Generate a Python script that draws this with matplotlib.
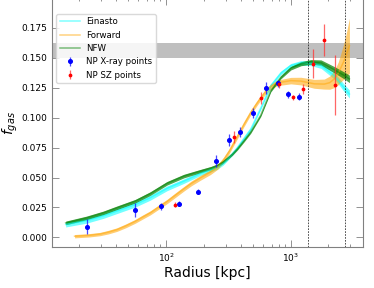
import numpy as np
import matplotlib
matplotlib.use('Agg')
import matplotlib.pyplot as plt
from matplotlib.ticker import MultipleLocator, FormatStrFormatter

# 曲线数据 (kpc, f_gas, 误差带半宽)
r_nfw = [15.7, 23.1, 31.5, 40.4, 56.6, 74.8, 102, 139, 189, 230, 257, 285, 310,
         340, 373, 420, 477, 574, 690, 832, 1000, 1205, 1449, 1746, 2230, 2686,
         2946]
f_nfw = [0.0121, 0.0163, 0.0205, 0.0247, 0.0302, 0.0366, 0.0452, 0.0512, 0.0554,
         0.0580, 0.0600, 0.0628, 0.0660, 0.0696, 0.0740, 0.0806, 0.0880, 0.1020,
         0.1225, 0.1337, 0.1413, 0.1450, 0.1466, 0.1460, 0.1400, 0.1351, 0.1323]
e_nfw = [0.0015, 0.0015, 0.0015, 0.0015, 0.0015, 0.0015, 0.0015, 0.0015, 0.0014,
         0.0013, 0.0012, 0.0012, 0.0011, 0.0011, 0.0011, 0.0011, 0.0011, 0.0011,
         0.0011, 0.0013, 0.0015, 0.0017, 0.0019, 0.0022, 0.0026, 0.0029, 0.0031]

r_ein = r_nfw
f_ein = [0.0108, 0.0140, 0.0180, 0.0220, 0.0274, 0.0332, 0.0410, 0.0470, 0.0534,
         0.0565, 0.0584, 0.0615, 0.0652, 0.0698, 0.0750, 0.0825, 0.0904, 0.1080,
         0.1267, 0.1373, 0.1435, 0.1457, 0.1455, 0.1435, 0.1350, 0.1245, 0.1197]
e_ein = [0.0021, 0.0021, 0.0021, 0.0021, 0.0021, 0.0021, 0.0020, 0.0019, 0.0017,
         0.0016, 0.0015, 0.0014, 0.0013, 0.0013, 0.0013, 0.0013, 0.0013, 0.0013,
         0.0014, 0.0015, 0.0017, 0.0019, 0.0021, 0.0024, 0.0028, 0.0031, 0.0034]

r_fwd = [18.5, 24, 29.6, 34.5, 40.4, 47.5, 56.6, 65, 74.8, 90, 102, 120, 139, 160,
         189, 227, 260, 291, 320, 350, 385, 421, 477, 540, 574, 620, 690, 760, 832,
         1000, 1205, 1541, 1854, 2050, 2230, 2400, 2524, 2650, 2766, 2946]
f_fwd = [0.0010, 0.0017, 0.0028, 0.0044, 0.0065, 0.0096, 0.0134, 0.0170, 0.0205,
         0.0262, 0.0300, 0.0356, 0.0406, 0.0452, 0.0498, 0.0545, 0.0590, 0.0652,
         0.0718, 0.0792, 0.0870, 0.0945, 0.1043, 0.1127, 0.1165, 0.1210, 0.1260,
         0.1285, 0.1295, 0.1309, 0.1305, 0.1282, 0.1280, 0.1292, 0.1323, 0.1370,
         0.1420, 0.1468, 0.1518, 0.1600]
e_fwd = [0.0014, 0.0014, 0.0014, 0.0015, 0.0015, 0.0016, 0.0016, 0.0017, 0.0017,
         0.0018, 0.0018, 0.0019, 0.0019, 0.0020, 0.0020, 0.0020, 0.0020, 0.0020,
         0.0020, 0.0020, 0.0020, 0.0020, 0.0020, 0.0020, 0.0020, 0.0021, 0.0022,
         0.0023, 0.0024, 0.0027, 0.0032, 0.0037, 0.0042, 0.0055, 0.0072, 0.0095,
         0.0120, 0.0148, 0.0175, 0.0230]

# 数据点
r_xray = [23.3, 55.9, 91.7, 127, 182, 252, 321, 394, 502, 638, 782, 957, 1166]
f_xray = [0.009, 0.023, 0.026, 0.028, 0.0383, 0.064, 0.081, 0.088, 0.1038,
          0.1245, 0.1287, 0.1195, 0.1175]
err_xray = [0.006, 0.006, 0.003, 0.002, 0.002, 0.005, 0.005, 0.004, 0.004,
            0.005, 0.003, 0.003, 0.003]

r_sz = [117, 348, 577, 811, 1038, 1256, 1495, 1833, 2275]
f_sz = [0.0272, 0.0839, 0.1161, 0.1278, 0.117, 0.1237, 0.1449, 0.1648, 0.1275]
err_sz = [0.002, 0.005, 0.005, 0.003, 0.002, 0.004, 0.012, 0.013, 0.025]

r_lines = [1370, 2735]
band = [0.150, 0.162]

fig = plt.figure(figsize=(3.74, 2.88), dpi=100)
ax = fig.add_axes([0.139, 0.1424, 0.832, 0.863])

ax.axhspan(band[0], band[1], color='gray', alpha=0.5, lw=0)

for r, f, e, c, a, lab in [(r_ein, f_ein, e_ein, 'cyan', 0.55, 'Einasto'),
                           (r_fwd, f_fwd, e_fwd, 'orange', 0.55, 'Forward'),
                           (r_nfw, f_nfw, e_nfw, 'green', 0.7, 'NFW')]:
    r, f, e = np.array(r), np.array(f), np.array(e)
    ax.fill_between(r, f - e, f + e, color=c, alpha=a, lw=0)
    ax.plot(r, f, color=c, alpha=0.5, lw=1.1, label=lab)

ax.errorbar(r_xray, f_xray, yerr=err_xray, fmt='o', color='blue', ms=2.6,
            elinewidth=0.9, ecolor=(0.1, 0.1, 1.0, 0.8), label='NP X-ray points')
ax.errorbar(r_sz, f_sz, yerr=err_sz, fmt='o', color='red', ms=1.7,
            elinewidth=0.9, ecolor=(1.0, 0.2, 0.2, 0.75), label='NP SZ points')

for x in r_lines:
    ax.axvline(x, color='k', ls=(0, (2, 1.5)), lw=0.6, alpha=0.8)

ax.set_xscale('log')
ax.set_xlim(12.2, 3795)
ax.set_ylim(-0.008, 0.1995)
ax.yaxis.set_major_locator(MultipleLocator(0.025))
ax.yaxis.set_major_formatter(FormatStrFormatter('%.3f'))

ax.tick_params(which='both', direction='in', top=True, right=True,
               labelsize=6.5, color='gray', width=0.6)
ax.tick_params(which='major', length=5)
ax.tick_params(which='minor', length=2.5)
for s in ax.spines.values():
    s.set_color('gray')
    s.set_linewidth(0.8)

ax.set_xlabel('Radius [kpc]', fontsize=10, labelpad=1)
ax.set_ylabel('$f_{gas}$', fontsize=10, labelpad=1)

ax.legend(loc='upper left', bbox_to_anchor=(0.0, 0.955), fontsize=6.2,
          handlelength=2.3, framealpha=0.85, edgecolor='lightgray')

fig.savefig('out.png', dpi=100)
